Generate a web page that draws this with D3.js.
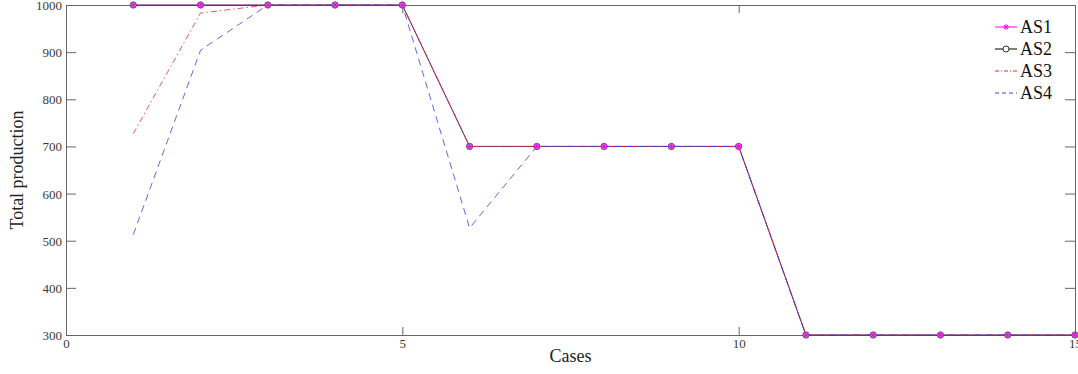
<!DOCTYPE html>
<html>
<head>
<meta charset="utf-8">
<script src="https://cdn.jsdelivr.net/npm/d3@7"></script>
<style>
  body { margin: 0; background: #fff; }
  svg text { font-family: "Liberation Serif", "Times New Roman", serif; }
</style>
</head>
<body>
<div id="chart"></div>
<script>
// case numbers and production per strategy
var cases = [1, 2, 3, 4, 5, 6, 7, 8, 9, 10, 11, 12, 13, 14, 15];
var as1 = [1000, 1000, 1000, 1000, 1000, 700, 700, 700, 700, 700, 300, 300, 300, 300, 300];
var as2 = [1000, 1000, 1000, 1000, 1000, 700, 700, 700, 700, 700, 300, 300, 300, 300, 300];
var as3 = [727, 983, 1000, 1000, 1000, 700, 700, 700, 700, 700, 300, 300, 300, 300, 300];
var as4 = [513, 904, 1000, 1000, 1000, 527, 700, 700, 700, 700, 300, 300, 300, 300, 300];
var seriesNames = ["AS1", "AS2", "AS3", "AS4"];
var xTicks = [0, 5, 10, 15];
var yTicks = [300, 400, 500, 600, 700, 800, 900, 1000];

var width = 1078, height = 374;
var margin = {left: 66, right: 3, top: 5, bottom: 39};

var svg = d3.select("#chart").append("svg")
  .attr("width", width)
  .attr("height", height);

var x = d3.scaleLinear().domain([0, 15]).range([margin.left, width - margin.right]);
var y = d3.scaleLinear().domain([300, 1000]).range([height - margin.bottom, margin.top]);

var axisColor = "#666";

/* box + ticks (inward, matlab style) */
var gx = svg.append("g")
  .attr("transform", `translate(0, ${y(300)})`)
  .call(d3.axisBottom(x).tickValues(xTicks).tickSize(-8).tickPadding(4).tickFormat(d3.format("d")));
var gy = svg.append("g")
  .attr("transform", `translate(${x(0)}, 0)`)
  .call(d3.axisLeft(y).tickValues(yTicks).tickSize(-10).tickPadding(4).tickFormat(d3.format("d")));
var gt = svg.append("g")
  .attr("transform", `translate(0, ${y(1000)})`)
  .call(d3.axisTop(x).tickValues(xTicks).tickSize(-8).tickFormat(""));
var gr = svg.append("g")
  .attr("transform", `translate(${x(15)}, 0)`)
  .call(d3.axisRight(y).tickValues(yTicks).tickSize(-10).tickFormat(""));

[gx, gy, gt, gr].forEach(function (g) {
  g.attr("font-family", "Liberation Serif, serif");
  g.select(".domain").attr("stroke", axisColor);
  g.selectAll(".tick line").attr("stroke", axisColor);
  g.selectAll(".tick text")
    .attr("fill", "#3a3a3a")
    .style("font-family", "'Liberation Serif', serif")
    .style("font-size", "13px");
});
gx.selectAll(".tick text").attr("dy", "0.71em");
gy.selectAll(".tick text").attr("dy", "0.35em");

/* series */
var styles = {
  AS1: {color: "#ff00ff", dash: null},
  AS2: {color: "#000000", dash: null},
  AS3: {color: "#e03030", dash: "6,3,1.5,3"},
  AS4: {color: "#4040d8", dash: "7,5"}
};
var data = [as1, as2, as3, as4];

var line = d3.line()
  .x(function (d, i) { return x(cases[i]); })
  .y(function (d) { return y(d); });

var lines = svg.append("g").attr("class", "lines");

data.forEach(function (vals, k) {
  var name = seriesNames[k];
  lines.append("path")
    .attr("d", line(vals))
    .attr("fill", "none")
    .attr("stroke", styles[name].color)
    .attr("stroke-width", 1)
    .attr("stroke-opacity", name === "AS1" || name === "AS2" ? 0.6 : 0.8)
    .attr("stroke-dasharray", styles[name].dash);
});

/* markers: AS2 circles, AS1 stars */
lines.selectAll(".m2").data(as2).enter()
  .append("circle")
  .attr("cx", function (d, i) { return x(cases[i]); })
  .attr("cy", function (d) { return y(d); })
  .attr("r", 3.2)
  .attr("fill", "#d070d8")
  .attr("stroke", "#554455")
  .attr("stroke-width", 0.8);

lines.selectAll(".m1").data(as1).enter()
  .append("path")
  .attr("transform", function (d, i) { return `translate(${x(cases[i])}, ${y(d)})`; })
  .attr("d", "M-2.8,0H2.8M0,-2.8V2.8M-2,-2L2,2M-2,2L2,-2")
  .attr("stroke", "#ee00ee")
  .attr("stroke-width", 0.8);

/* legend */
var legend = svg.append("g").attr("transform", "translate(995, 27)");
seriesNames.forEach(function (name, k) {
  var gl = legend.append("g").attr("transform", `translate(0, ${k * 22})`);
  gl.append("line")
    .attr("x1", 0).attr("x2", 22).attr("y1", 0).attr("y2", 0)
    .attr("stroke", styles[name].color)
    .attr("stroke-dasharray", name === "AS3" ? "4,2,1,2" : (name === "AS4" ? "4,3" : null));
  if (name === "AS1") {
    gl.append("path").attr("d", "M8,0H14M11,-3V3M9,-2L13,2M9,2L13,-2")
      .attr("stroke", "#ff00ff").attr("stroke-width", 0.9);
  }
  if (name === "AS2") {
    gl.append("circle").attr("cx", 11).attr("cy", 0).attr("r", 3)
      .attr("fill", "#fff").attr("stroke", "#000").attr("stroke-width", 0.8);
  }
  gl.append("text")
    .attr("x", 25).attr("y", 0).attr("dy", "0.35em")
    .attr("fill", "#111")
    .style("font-size", "18px")
    .text(name);
});

/* axis titles */
svg.append("text")
  .attr("x", (x(0) + x(15)) / 2)
  .attr("y", 362)
  .attr("text-anchor", "middle")
  .attr("fill", "#222")
  .style("font-size", "18px")
  .text("Cases");

svg.append("text")
  .attr("transform", `translate(23, ${(y(300) + y(1000)) / 2}) rotate(-90)`)
  .attr("text-anchor", "middle")
  .attr("fill", "#222")
  .style("font-size", "18px")
  .text("Total production");
</script>
</body>
</html>
